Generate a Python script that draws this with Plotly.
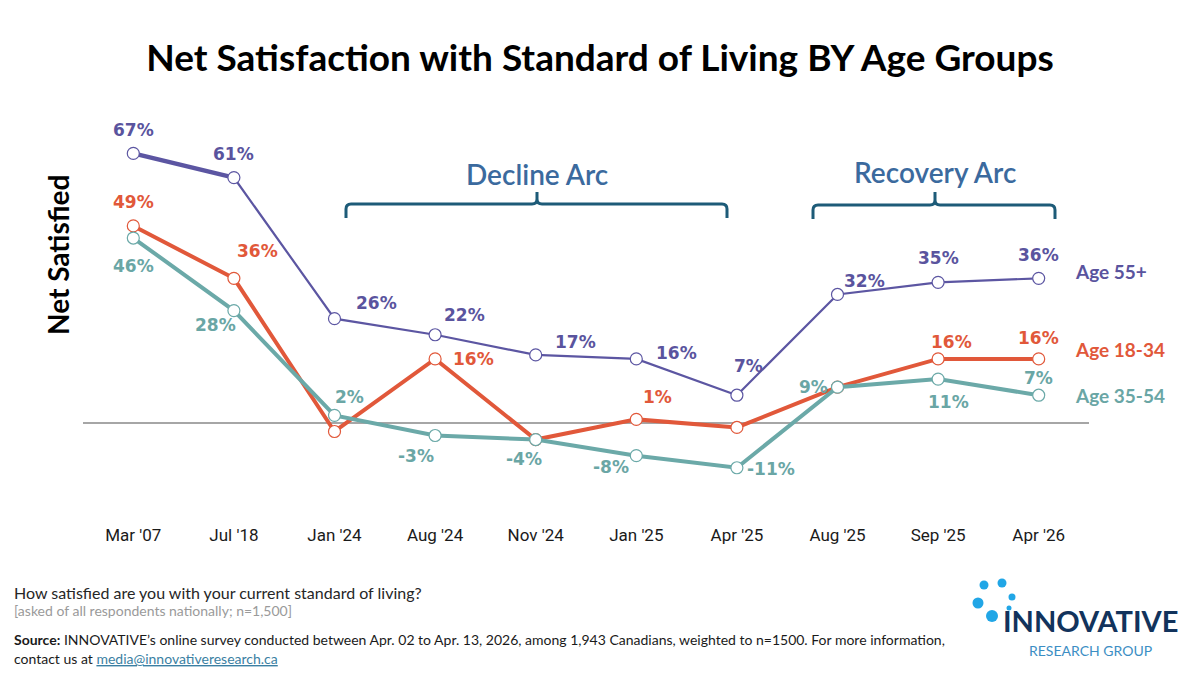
import plotly.graph_objects as go

categories = ["Mar '07", "Jul '18", "Jan '24", "Aug '24", "Nov '24", "Jan '25", "Apr '25", "Aug '25", "Sep '25", "Apr '26"]
age_55_plus = [67, 61, 26, 22, 17, 16, 7, 32, 35, 36]
age_18_34 = [49, 36, -2, 16, -4, 1, -1, 9, 16, 16]
age_35_54 = [46, 28, 2, -3, -4, -8, -11, 9, 11, 7]

C55 = "#5C56A2"
C18 = "#E1583A"
C35 = "#6BA9A8"
T55 = "#5A549E"
T35 = "#6AA6A5"

# label offsets (pixels) — None means unlabeled
off55 = [(0, 23), (0, 24), (42, 16), (29, 20), (40, 13), (40, 6), (12, 29), (27, 13), (0, 24), (0, 23)]
off18 = [(0, 24), (24, 27), None, (38, 0), None, (21, 22), None, None, (13, 17), (0, 21)]
off35 = [(0, -28), (-18, -14), (15, 18), (-19, -20), (-12, -19), (-25, -11), (34, -1), (-24, 0), (10, -23), (0, 17)]

# plot-area geometry (pixels)
L, R, T, B = 83, 111, 101, 175
W, H = 1200, 675
PW, PH = W - L - R, H - T - B


def px(x):
    return (x - L) / PW


def py(y):
    return (H - B - y) / PH


fig = go.Figure()
mk = dict(size=12, color="white")

fig.add_trace(go.Scatter(x=categories, y=age_18_34, mode="lines+markers", name="Age 18-34",
                         line=dict(color=C18, width=4), marker=dict(**mk, line=dict(color=C18, width=1.2))))
fig.add_trace(go.Scatter(x=categories, y=age_35_54, mode="lines+markers", name="Age 35-54",
                         line=dict(color=C35, width=4), marker=dict(**mk, line=dict(color=C35, width=1.2))))
fig.add_trace(go.Scatter(x=categories[:2], y=age_55_plus[:2], mode="lines", showlegend=False,
                         line=dict(color=C55, width=4.5)))
fig.add_trace(go.Scatter(x=categories, y=age_55_plus, mode="lines+markers", name="Age 55+",
                         line=dict(color=C55, width=2.2), marker=dict(**mk, line=dict(color=C55, width=1.2))))

LBL_FONT = "DejaVu Sans"
annotations = []
for vals, offs, col in [(age_55_plus, off55, T55), (age_18_34, off18, C18), (age_35_54, off35, T35)]:
    for c, v, o in zip(categories, vals, offs):
        if o is None:
            continue
        annotations.append(dict(x=c, y=v, xref="x", yref="y", text=f"<b>{v}%</b>", showarrow=False,
                                xshift=o[0], yshift=o[1], font=dict(family=LBL_FONT, size=17, color=col)))

# series labels at right
series_labels = [("Age 55+", T55, 271), ("Age 18-34", C18, 349), ("Age 35-54", T35, 395)]
for name, col, ypix in series_labels:
    annotations.append(dict(x=px(1073), y=py(ypix), xref="paper", yref="paper", text=f"<b>{name}</b>",
                            showarrow=False, xanchor="left", yanchor="middle",
                            font=dict(family="Lato", size=19, color=col)))

# y-axis title
annotations.append(dict(x=px(58), y=py(255), xref="paper", yref="paper", text="<b>Net Satisfied</b>",
                        textangle=-90, showarrow=False, xanchor="center", yanchor="middle",
                        font=dict(family="Lato", size=28, color="black")))

# arc labels
ARC_TXT = "#3B6A9E"
annotations.append(dict(x=px(537), y=py(174), xref="paper", yref="paper", text="Decline Arc", showarrow=False,
                        xanchor="center", yanchor="middle",
                        font=dict(family="Lato", size=28, color=ARC_TXT, weight=600)))
annotations.append(dict(x=px(935), y=py(172), xref="paper", yref="paper", text="Recovery Arc", showarrow=False,
                        xanchor="center", yanchor="middle",
                        font=dict(family="Lato", size=28, color=ARC_TXT, weight=600)))

# footer
FOOT = "Lato"
annotations.append(dict(x=px(12), y=py(592), xref="paper", yref="paper", xanchor="left", yanchor="middle",
                        text="How satisfied are you with your current standard of living?", showarrow=False,
                        font=dict(family=FOOT, size=16, color="#262626")))
annotations.append(dict(x=px(12), y=py(610), xref="paper", yref="paper", xanchor="left", yanchor="middle",
                        text="[asked of all respondents nationally; n=1,500]", showarrow=False,
                        font=dict(family=FOOT, size=14, color="#9A9A9A")))
annotations.append(dict(x=px(12), y=py(639), xref="paper", yref="paper", xanchor="left", yanchor="middle",
                        text="<b>Source:</b> INNOVATIVE’s online survey conducted between Apr. 02 to Apr. 13, 2026, among 1,943 Canadians, weighted to n=1500. For more information,",
                        showarrow=False, font=dict(family=FOOT, size=14, color="#1A1A1A")))
annotations.append(dict(x=px(12), y=py(658), xref="paper", yref="paper", xanchor="left", yanchor="middle",
                        text="contact us at <span style='color:#3B7FA3'><u>media@innovativeresearch.ca</u></span>",
                        showarrow=False, font=dict(family=FOOT, size=14, color="#1A1A1A")))

# logo text
annotations.append(dict(x=px(1090), y=py(620), xref="paper", yref="paper", xanchor="center", yanchor="middle",
                        text="<b>INNOVATIVE</b>", showarrow=False, font=dict(family="Lato", size=29, color="#12335C")))
annotations.append(dict(x=px(1090), y=py(650), xref="paper", yref="paper", xanchor="center", yanchor="middle",
                        text="RESEARCH GROUP", showarrow=False, font=dict(family="Lato", size=14, color="#3C8EC4")))

shapes = []


def bracket(x0, x1, xc, yh, ybot, ytop, r=5):
    pts = [("M", [(x0, ybot)]), ("L", [(x0, yh + r)]), ("Q", [(x0, yh), (x0 + r, yh)]),
           ("L", [(xc - r, yh)]), ("Q", [(xc, yh), (xc, yh - r)]), ("L", [(xc, ytop)]),
           ("M", [(xc, yh - r)]), ("Q", [(xc, yh), (xc + r, yh)]), ("L", [(x1 - r, yh)]),
           ("Q", [(x1, yh), (x1, yh + r)]), ("L", [(x1, ybot)])]
    s = ""
    for cmd, ps in pts:
        s += cmd + " " + " ".join(f"{px(a):.5f},{py(b):.5f}" for a, b in ps) + " "
    return dict(type="path", xref="paper", yref="paper", path=s.strip(),
                line=dict(color="#1D5B78", width=3))


shapes.append(bracket(346, 727, 537, 204, 218, 192))
shapes.append(bracket(813, 1055, 935, 205, 219, 192))

# logo dots
dots = [(984, 585, 4.5), (1002, 583, 4.5), (978, 603, 5.5), (1012, 597, 3.5), (992, 616, 6), (1009, 608, 2.5)]
for cx, cy, rr in dots:
    shapes.append(dict(type="circle", xref="paper", yref="paper", x0=px(cx - rr), x1=px(cx + rr),
                       y0=py(cy + rr), y1=py(cy - rr), fillcolor="#21A6E6", line=dict(width=0)))

fig.update_layout(
    width=W, height=H, margin=dict(l=L, r=R, t=T, b=B),
    paper_bgcolor="white", plot_bgcolor="white", showlegend=False,
    title=dict(text="<b>Net Satisfaction with Standard of Living BY Age Groups</b>", x=0.5, xref="container",
               xanchor="center", y=1 - 58 / H, yanchor="middle", font=dict(family="Lato", size=37, color="black")),
    xaxis=dict(type="category", range=[-0.5, 9.5], showgrid=False, showline=False, zeroline=False, ticks="",
               tickfont=dict(family="Roboto", size=17, color="#1A1A1A"),
               ticklabelstandoff=23),
    yaxis=dict(range=[-19, 80], showgrid=False, showticklabels=False, zeroline=True, zerolinecolor="#A6A6A6",
               zerolinewidth=1.5, showline=False),
    annotations=annotations, shapes=shapes,
)

fig.write_html("out.html")
